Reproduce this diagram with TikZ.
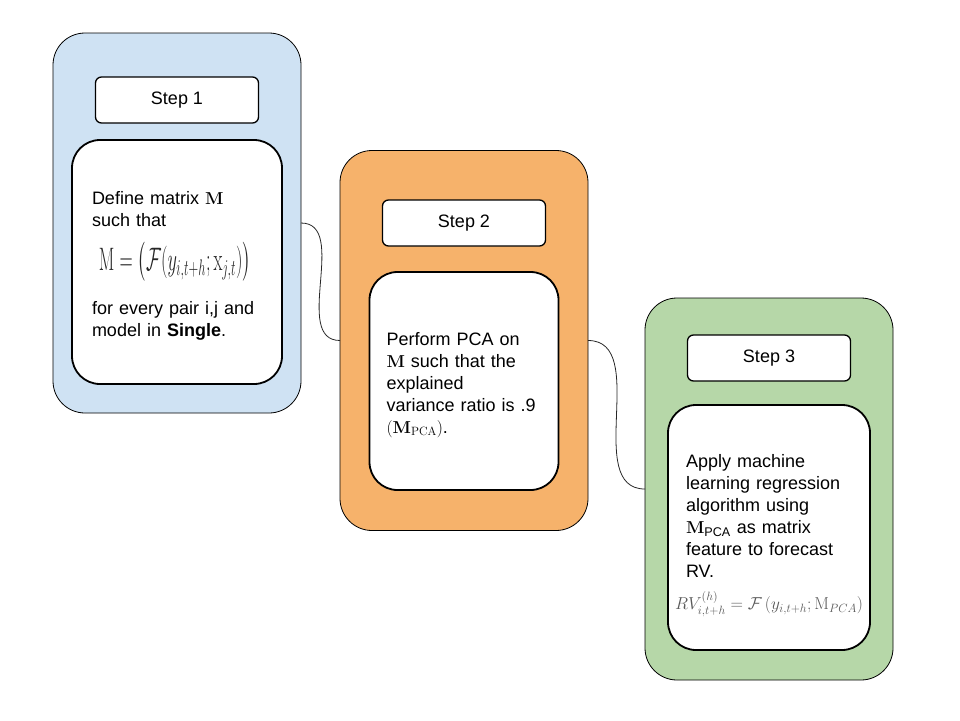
\documentclass[tikz,border=0pt]{standalone}
\usepackage{amsmath}
\usepackage[no-math]{fontspec}
\setmainfont{Liberation Sans}
\usetikzlibrary{positioning}
\definecolor{stageblue}{RGB}{207,226,243}
\definecolor{stageorange}{RGB}{246,178,107}
\definecolor{stagegreen}{RGB}{182,215,168}

\begin{document}
\begin{tikzpicture}[
  x=1pt, y=-1pt,
  every node/.style={font=\fontsize{18}{22}\selectfont, outer sep=0pt},
  stage/.style={draw, line width=0.8pt, rounded corners=32pt, minimum width=248pt, minimum height=380pt},
  steplabel/.style={draw, fill=white, line width=1.3pt, rounded corners=6pt, minimum width=163pt, minimum height=46pt},
  detail/.style={draw, fill=white, line width=1.8pt, rounded corners=28pt, align=left, inner sep=0pt},
  link/.style={draw=black!85, line width=0.8pt}
]
\useasboundingbox (0,0) rectangle (960,720);

\node[stage, fill=stageblue] (stage1) at (177,223) {};
\node[steplabel, below=44pt of stage1.north] (step1) {Step 1};
\node[detail, below=17pt of step1, minimum width=210pt, minimum height=244pt, text width=170pt] (task1) {\rule{0pt}{21pt}Define matrix $\mathbf{M}$\\
such that\\[15pt]
\makebox[166pt]{\color{black!85}\resizebox*{152pt}{39pt}{$\mathrm{M}=\bigl(\mathcal{F}(y_{i,t+h};\mathrm{x}_{j,t})\bigr)$}}\\[19pt]
for every pair i,j and\\
model in \textbf{Single}.};

\node[stage, fill=stageorange] (stage2) at (464,340.5) {};
\node[steplabel, below=49.5pt of stage2.north] (step2) {Step 2};
\node[detail, below=26pt of step2, minimum width=189pt, minimum height=218pt, text width=155pt] (task2) {\rule{0pt}{21pt}Perform PCA on\\
$\mathbf{M}$ such that the\\
explained\\
variance ratio is .9\\
$(\mathbf{M}_{\mathrm{PCA}})$.};

\node[stage, fill=stagegreen, minimum height=382pt] (stage3) at (769,489) {};
\node[steplabel, below=37pt of stage3.north] (step3) {Step 3};
\node[detail, below=24pt of step3, minimum width=202pt, minimum height=245pt, text width=166pt] (task3) {\rule{0pt}{30pt}Apply machine\\
learning regression\\
algorithm using\\
$\mathbf{M}_{\text{PCA}}$ as matrix\\
feature to forecast\\
RV.\\[10pt]
\makebox[166pt]{\fontsize{17}{20}\selectfont\color{black!65}$RV_{i,t+h}^{(h)}=\mathcal{F}\left(y_{i,t+h};\mathrm{M}_{PCA}\right)$}};

\draw[link] (stage1.east) to[out=0, in=180] (stage2.west);
\draw[link] (stage2.east) to[out=0, in=180] (stage3.west);

\end{tikzpicture}
\end{document}
